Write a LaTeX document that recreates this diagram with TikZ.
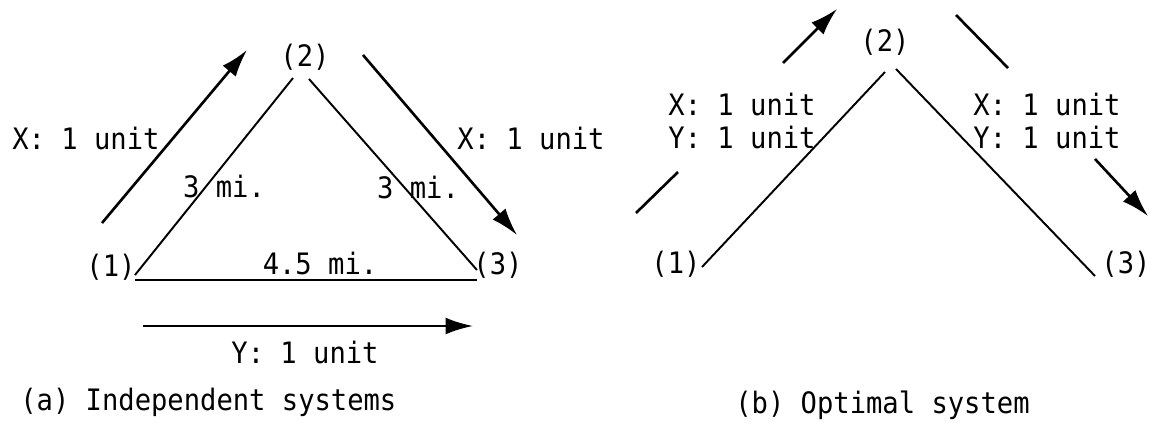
\documentclass[tikz,border=0pt]{standalone}
\usepackage{fontspec}
\setmonofont[FakeStretch=0.92]{DejaVu Sans Mono}
\usepackage{tikz}
\usetikzlibrary{arrows.meta,positioning}

\begin{document}
\begin{tikzpicture}[
  x=0.02cm, y=-0.02cm,
  lbl/.style={font=\ttfamily\fontsize{16.8}{19}\selectfont, inner sep=0pt,
              align=left},
  link/.style={line width=1.1pt, black},
  flow/.style={-{Latex[length=5.5mm, width=3.4mm]}, line width=1.5pt},
  bare/.style={line width=1.5pt},
]
\useasboundingbox (0,0) rectangle (1150,426);

% ================= panel (a): independent systems =================
\node[lbl] (a1) at (111,267) {(1)};
\node[lbl] (a2) at (305,57)  {(2)};
\node[lbl] (a3) at (498,265) {(3)};

\coordinate (a12s) at (135,275); \coordinate (a12e) at (293,78);
\coordinate (a23s) at (309,79);  \coordinate (a23e) at (477,270);
\coordinate (a13s) at (135,280); \coordinate (a13e) at (477,280);

% links between the three towns
\draw[link] (a12s) -- (a12e);
\draw[link] (a23s) -- (a23e);
\draw[link] (a13s) -- (a13e);

\node[lbl] (d12) at (224,186) {3 mi.};
\node[lbl] (d23) at (418,187) {3 mi.};
\node[lbl] (d13) at (320,263) {4.5 mi.};

% shipments, one per product
\coordinate (xa1) at (102,223); \coordinate (xa2) at (247,50);
\coordinate (xb1) at (363,55);  \coordinate (xb2) at (517,235);
\coordinate (ya1) at (143,326); \coordinate (ya2) at (473,326);

\draw[flow] (xa1) -- (xa2);
\draw[flow] (xb1) -- (xb2);
\draw[flow] (ya1) -- (ya2);

\node[lbl, anchor=west] (qx1) at (12,138) {X: 1 unit};
\node[lbl] (qx2) at (531,138) {X: 1 unit};
\node[lbl] (qy1) at (305,352) {Y: 1 unit};

\node[lbl, anchor=west] (capa) at (20,402) {(a) Independent systems};

% ================= panel (b): optimal system =================
\node[lbl] (b1) at (676,264)  {(1)};
\node[lbl] (b2) at (885,42)   {(2)};
\node[lbl] (b3) at (1126,264) {(3)};

\coordinate (b12s) at (702,267); \coordinate (b12e) at (885,72);
\coordinate (b23s) at (896,69);  \coordinate (b23e) at (1095,276);

\draw[link] (b12s) -- (b12e);
\draw[link] (b23s) -- (b23e);

% combined shipments, broken by their labels
\coordinate (fa1) at (636,213); \coordinate (fa2) at (678,172);
\coordinate (fa3) at (783,63);  \coordinate (fa4) at (837,9);
\coordinate (fb1) at (956,15);  \coordinate (fb2) at (1008,68);
\coordinate (fb3) at (1095,159);\coordinate (fb4) at (1148,216);

\draw[bare] (fa1) -- (fa2);
\draw[flow] (fa3) -- (fa4);
\draw[bare] (fb1) -- (fb2);
\draw[flow] (fb3) -- (fb4);

\node[lbl] (qb1) at (742,121)  {X: 1 unit\\Y: 1 unit};
\node[lbl] (qb2) at (1047,121) {X: 1 unit\\Y: 1 unit};

\node[lbl, anchor=west] (capb) at (735,405) {(b) Optimal system};

\end{tikzpicture}
\end{document}
